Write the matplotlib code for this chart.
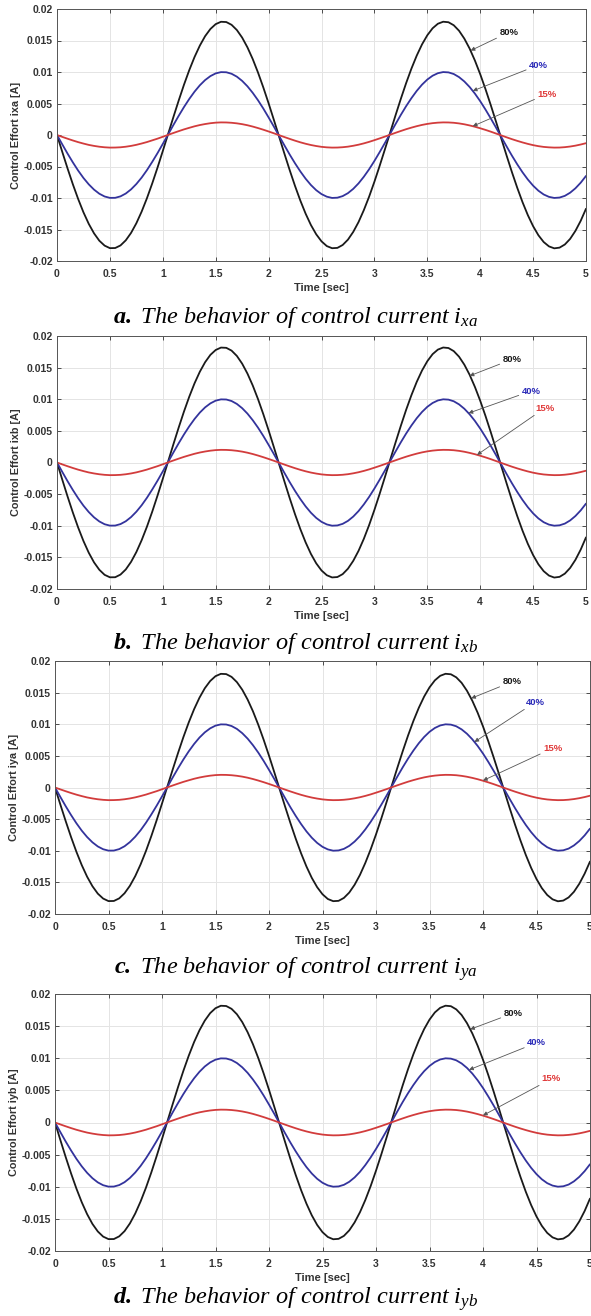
import matplotlib

matplotlib.use("Agg")
import matplotlib.pyplot as plt
import numpy as np

plt.rcParams["font.family"] = ["Liberation Sans", "DejaVu Sans"]
plt.rcParams["axes.unicode_minus"] = False
plt.rcParams["mathtext.fontset"] = "custom"
plt.rcParams["mathtext.rm"] = "Liberation Serif"
plt.rcParams["mathtext.it"] = "Liberation Serif:italic"
plt.rcParams["mathtext.bf"] = "Liberation Serif:bold"
plt.rcParams["mathtext.bfit"] = "Liberation Serif:italic:bold"

# ============================================================================
# DATA (read off the reference, sampled every 0.05 s)
# ============================================================================

time_s = np.linspace(0.0, 5.0, 101)

# 80 % curve, panels a / c
i80_a = [
    0.0, -0.00269, -0.00532, -0.00783, -0.01016, -0.01227, -0.01410, -0.01561,
    -0.01678, -0.01756, -0.01796, -0.01794, -0.01753, -0.01672, -0.01554,
    -0.01401, -0.01216, -0.01004, -0.00769, -0.00518, -0.00254, 0.00015,
    0.00284, 0.00546, 0.00797, 0.01029, 0.01238, 0.01419, 0.01569, 0.01683,
    0.01760, 0.01797, 0.01793, 0.01749, 0.01666, 0.01546, 0.01391, 0.01205,
    0.00991, 0.00755, 0.00503, 0.00239, -0.00030, -0.00299, -0.00561, -0.00810,
    -0.01041, -0.01249, -0.01429, -0.01576, -0.01688, -0.01763, -0.01797,
    -0.01792, -0.01746, -0.01661, -0.01538, -0.01382, -0.01193, -0.00979,
    -0.00742, -0.00488, -0.00224, 0.00045, 0.00314, 0.00575, 0.00824, 0.01054,
    0.01260, 0.01438, 0.01583, 0.01694, 0.01766, 0.01798, 0.01790, 0.01742,
    0.01655, 0.01530, 0.01372, 0.01182, 0.00966, 0.00728, 0.00474, 0.00209,
    -0.00060, -0.00329, -0.00590, -0.00837, -0.01066, -0.01271, -0.01447,
    -0.01591, -0.01699, -0.01768, -0.01799, -0.01788, -0.01738, -0.01649,
    -0.01522, -0.01362, -0.01171,
]

# 80 % curve, panels b / d (slightly larger peak)
i80_b = [
    0.0, -0.00272, -0.00538, -0.00792, -0.01028, -0.01241, -0.01426, -0.01579,
    -0.01696, -0.01776, -0.01815, -0.01814, -0.01772, -0.01691, -0.01571,
    -0.01416, -0.01229, -0.01015, -0.00778, -0.00523, -0.00257, 0.00015,
    0.00287, 0.00552, 0.00805, 0.01040, 0.01252, 0.01435, 0.01586, 0.01702,
    0.01779, 0.01817, 0.01813, 0.01769, 0.01685, 0.01563, 0.01406, 0.01218,
    0.01002, 0.00764, 0.00509, 0.00242, -0.00031, -0.00302, -0.00567, -0.00819,
    -0.01053, -0.01263, -0.01445, -0.01594, -0.01707, -0.01782, -0.01817,
    -0.01811, -0.01765, -0.01679, -0.01555, -0.01397, -0.01207, -0.00990,
    -0.00750, -0.00494, -0.00227, 0.00046, 0.00317, 0.00581, 0.00833, 0.01065,
    0.01274, 0.01454, 0.01601, 0.01713, 0.01785, 0.01818, 0.01810, 0.01761,
    0.01673, 0.01547, 0.01387, 0.01195, 0.00977, 0.00736, 0.00479, 0.00211,
    -0.00061, -0.00332, -0.00596, -0.00846, -0.01078, -0.01285, -0.01463,
    -0.01609, -0.01718, -0.01788, -0.01819, -0.01808, -0.01757, -0.01667,
    -0.01539, -0.01377, -0.01184,
]

# 40 % curve
i40 = [
    0.0, -0.00149, -0.00296, -0.00435, -0.00565, -0.00682, -0.00783, -0.00867,
    -0.00932, -0.00976, -0.00998, -0.00997, -0.00974, -0.00929, -0.00863,
    -0.00778, -0.00676, -0.00558, -0.00427, -0.00288, -0.00141, 0.00008,
    0.00158, 0.00304, 0.00443, 0.00572, 0.00688, 0.00789, 0.00872, 0.00935,
    0.00978, 0.00998, 0.00996, 0.00972, 0.00926, 0.00859, 0.00773, 0.00669,
    0.00551, 0.00420, 0.00279, 0.00133, -0.00017, -0.00166, -0.00312, -0.00450,
    -0.00578, -0.00694, -0.00794, -0.00876, -0.00938, -0.00979, -0.00999,
    -0.00995, -0.00970, -0.00923, -0.00855, -0.00768, -0.00663, -0.00544,
    -0.00412, -0.00271, -0.00125, 0.00025, 0.00174, 0.00320, 0.00458, 0.00585,
    0.00700, 0.00799, 0.00880, 0.00941, 0.00981, 0.00999, 0.00994, 0.00968,
    0.00919, 0.00850, 0.00762, 0.00657, 0.00537, 0.00404, 0.00263, 0.00116,
    -0.00034, -0.00183, -0.00328, -0.00465, -0.00592, -0.00706, -0.00804,
    -0.00884, -0.00944, -0.00982, -0.00999, -0.00993, -0.00966, -0.00916,
    -0.00846, -0.00757, -0.00650,
]

# 15 % curve
i15 = [
    0.0, -0.00030, -0.00059, -0.00087, -0.00113, -0.00136, -0.00157, -0.00173,
    -0.00186, -0.00195, -0.00200, -0.00199, -0.00195, -0.00186, -0.00173,
    -0.00156, -0.00135, -0.00112, -0.00085, -0.00058, -0.00028, 0.00002,
    0.00032, 0.00061, 0.00089, 0.00114, 0.00138, 0.00158, 0.00174, 0.00187,
    0.00196, 0.00200, 0.00199, 0.00194, 0.00185, 0.00172, 0.00155, 0.00134,
    0.00110, 0.00084, 0.00056, 0.00027, -0.00003, -0.00033, -0.00062, -0.00090,
    -0.00116, -0.00139, -0.00159, -0.00175, -0.00188, -0.00196, -0.00200,
    -0.00199, -0.00194, -0.00185, -0.00171, -0.00154, -0.00133, -0.00109,
    -0.00082, -0.00054, -0.00025, 0.00005, 0.00035, 0.00064, 0.00092, 0.00117,
    0.00140, 0.00160, 0.00176, 0.00188, 0.00196, 0.00200, 0.00199, 0.00194,
    0.00184, 0.00170, 0.00152, 0.00131, 0.00107, 0.00081, 0.00053, 0.00023,
    -0.00007, -0.00037, -0.00066, -0.00093, -0.00118, -0.00141, -0.00161,
    -0.00177, -0.00189, -0.00196, -0.00200, -0.00199, -0.00193, -0.00183,
    -0.00169, -0.00151, -0.00130,
]

x_ticks = [0, 0.5, 1, 1.5, 2, 2.5, 3, 3.5, 4, 4.5, 5]
x_tick_labels = ["0", "0.5", "1", "1.5", "2", "2.5", "3", "3.5", "4", "4.5", "5"]
y_ticks = [0.02, 0.015, 0.01, 0.005, 0, -0.005, -0.01, -0.015, -0.02]
y_tick_labels = ["0.02", "0.015", "0.01", "0.005", "0", "-0.005", "-0.01", "-0.015", "-0.02"]

panel_names = ["ixa", "ixb", "iya", "iyb"]
panel_letters = ["a", "b", "c", "d"]
panel_subs = ["xa", "xb", "ya", "yb"]
series_labels = ["80%", "40%", "15%"]

# annotation (text xy, arrow tip xy) per panel, per series
annot = [
    [((4.27, 0.0163), (3.91, 0.0134)), ((4.55, 0.0111), (3.93, 0.0070)), ((4.63, 0.0065), (3.93, 0.0014))],
    [((4.30, 0.0163), (3.90, 0.0137)), ((4.48, 0.0113), (3.89, 0.0078)), ((4.61, 0.0086), (3.97, 0.0012))],
    [((4.27, 0.0167), (3.89, 0.0141)), ((4.49, 0.0135), (3.92, 0.0072)), ((4.65, 0.0062), (4.00, 0.0011))],
    [((4.28, 0.0170), (3.88, 0.0145)), ((4.50, 0.0124), (3.87, 0.0082)), ((4.64, 0.0068), (4.00, 0.0011))],
]

# ============================================================================
# LAYOUT / STYLE
# ============================================================================

W, H = 591, 1316
# axes box in pixels: left, right, top, bottom
boxes = [(57, 586, 9, 261), (57, 586, 336, 589), (55, 590, 661, 914), (55, 590, 994, 1251)]
caption_y = [317, 644, 969, 1299]

c_black = "#1a1a1a"
c_blue = "#33339c"
c_red = "#d23c3c"
txt_colors = [c_black, "#2a2ab8", "#e03a3a"]
line_colors = [c_black, c_blue, c_red]

fig = plt.figure(figsize=(W / 100, H / 100), dpi=100)

for k in range(4):
    left, right, top, bottom = boxes[k]
    ax = fig.add_axes([left / W, 1 - bottom / H, (right - left) / W, (bottom - top) / H])
    big = i80_a if k in (0, 2) else i80_b
    for vals, col in zip([big, i40, i15], line_colors):
        ax.plot(time_s, vals, color=col, lw=1.3, solid_capstyle="round")

    ax.set_xlim(0, 5)
    ax.set_ylim(-0.02, 0.02)
    ax.set_xticks(x_ticks, x_tick_labels)
    ax.set_yticks(y_ticks, y_tick_labels)
    ax.grid(True, color="#e4e4e4", lw=0.7)
    ax.set_axisbelow(True)
    ax.tick_params(direction="in", length=3, width=0.6, top=True, right=True,
                   labelsize=7.5, colors="#333333")
    ax.tick_params(axis="x", pad=5.5)
    ax.tick_params(axis="y", pad=3)
    for lab in ax.get_xticklabels() + ax.get_yticklabels():
        lab.set_fontweight("bold")
    for sp in ax.spines.values():
        sp.set_color("#555555")
        sp.set_linewidth(0.7)

    ax.set_xlabel("Time [sec]", fontsize=8, fontweight="bold", color="#333333", labelpad=3)
    ax.set_ylabel(f"Control Effort {panel_names[k]} [A]", fontsize=7.8, fontweight="bold",
                  color="#333333", labelpad=2)

    for (txy, hxy), lab, col in zip(annot[k], series_labels, txt_colors):
        ax.annotate(lab, xy=hxy, xytext=txy, fontsize=6.8, fontweight="bold", color=col,
                    ha="center", va="center",
                    arrowprops=dict(arrowstyle="-|>", color="#555555", lw=0.6,
                                    mutation_scale=6, shrinkA=0, shrinkB=0))

    caption = (r"$\mathbfit{" + panel_letters[k] + r".}$ The behavior of control current $i_{"
               + panel_subs[k] + r"}$")
    fig.text(0.5, 1 - caption_y[k] / H, caption, ha="center", va="center",
             fontsize=17.5, fontstyle="italic", family="Liberation Serif")

fig.savefig("out.png", dpi=100)
